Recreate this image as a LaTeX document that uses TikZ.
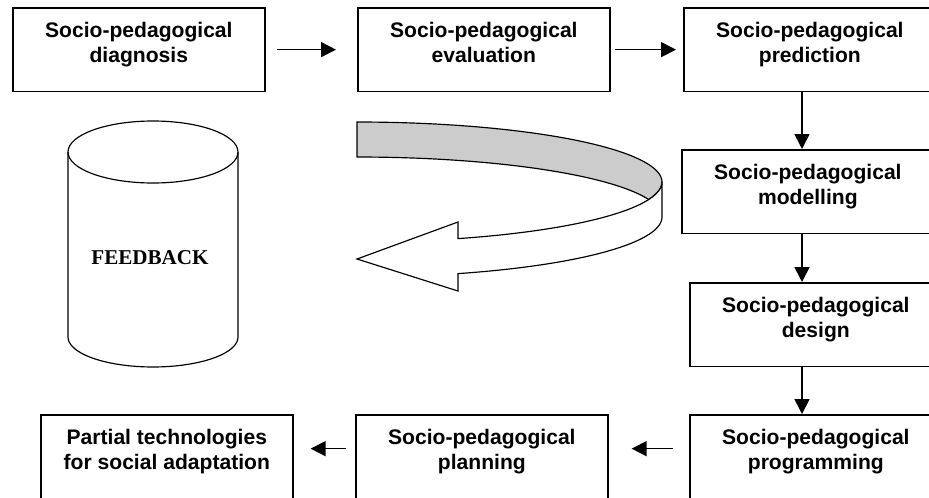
\documentclass[tikz,border=0pt]{standalone}
\usepackage{fontspec}
\setmainfont{Liberation Sans}
\newfontfamily\fbfont{Liberation Serif}
\usetikzlibrary{arrows.meta}
\tikzset{
  stage/.style={draw, line width=1.4pt, rectangle, inner sep=0pt, anchor=north west,
    minimum width=7.56cm, align=center, font=\fontsize{18}{21.3}\selectfont\bfseries,
    text height=46.8pt, text depth=24.6pt},
  arr/.style={line width=1.4pt, -{Triangle[length=0.45cm, width=0.45cm]}},
  thin/.style={line width=1pt}
}
\begin{document}
\begin{tikzpicture}[x=0.03cm, y=-0.03cm]
    \useasboundingbox (0,0) rectangle (929,497);
    \node[stage] (dgn) at (12,7) {Socio-pedagogical\\diagnosis};
    \node[stage] (evl) at (357,7) {Socio-pedagogical\\evaluation};
    \node[stage] (prd) at (683,7) {Socio-pedagogical\\prediction};
    \node[stage] (mdl) at (681,149) {Socio-pedagogical\\modelling};
    \node[stage] (dsg) at (689,282) {Socio-pedagogical\\design};
    \node[stage] (prg) at (689,414) {Socio-pedagogical\\programming};
    \node[stage] (pln) at (355,414) {Socio-pedagogical\\planning};
    \node[stage] (prt) at (40,414) {Partial technologies\\for social adaptation};
    \coordinate (axis) at (802,0);
    \draw[arr, shorten <=0.33cm, shorten >=0.63cm] (dgn.east) -- (evl.west);
    \draw[arr, shorten <=0.12cm, shorten >=0.21cm] (evl.east) -- (prd.west);
    \draw[arr] (prd.south -| axis) -- (mdl.north -| axis);
    \draw[arr] (mdl.south -| axis) -- (dsg.north -| axis);
    \draw[arr] (dsg.south -| axis) -- (prg.north -| axis);
    \draw[arr, shorten <=0.48cm, shorten >=0.69cm] ([yshift=0.24cm]prg.west) -- ([yshift=0.24cm]pln.east);
    \draw[arr, shorten <=0.27cm, shorten >=0.51cm] ([yshift=0.24cm]pln.west) -- ([yshift=0.24cm]prt.east);
    \draw[thin] (153,152) circle[x radius=85, y radius=31];
    \draw[thin] (68,152) -- (68,337)
      -- plot[variable=\t, domain=180:360, samples=40] ({153+85*cos(\t)}, {337-30*sin(\t)})
      -- (238,152);
    \node[font=\fontsize{18}{21}\selectfont\fbfont\bfseries] (fb) at (150,258) {FEEDBACK};
    \filldraw[thin, fill=black!20]
      plot[variable=\t, domain=90:-16.96, samples=50] ({357+305*cos(\t)}, {182-60*sin(\t)})
      -- plot[variable=\t, domain=16.96:90, samples=40] ({357+305*cos(\t)}, {217-60*sin(\t)})
      -- cycle;
    \filldraw[thin, fill=white]
      plot[variable=\t, domain=0:-70.67, samples=50] ({357+305*cos(\t)}, {182-60*sin(\t)})
      -- (458,222) -- (357,259) -- (458,291)
      -- plot[variable=\t, domain=-70.67:0, samples=50] ({357+305*cos(\t)}, {217-60*sin(\t)})
      -- cycle;
\end{tikzpicture}
\end{document}
